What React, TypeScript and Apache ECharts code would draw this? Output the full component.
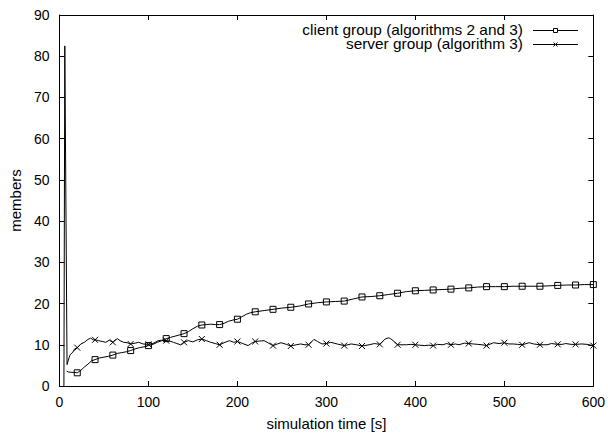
import React, { useEffect, useRef } from "react";
import * as echarts from "echarts";

// client group (algorithms 2 and 3)
const clientTime = [8, 10, 14, 17, 20, 24, 28, 32, 36, 40, 45, 50, 55, 60, 65, 70, 75, 80, 85, 90, 95, 100, 105, 110, 115, 120, 125, 130, 135, 140, 145, 150, 155, 160, 165, 170, 175, 180, 185, 190, 195, 200, 205, 210, 215, 220, 230, 240, 250, 260, 270, 280, 290, 300, 310, 320, 330, 340, 350, 360, 370, 380, 390, 400, 410, 420, 430, 440, 450, 460, 470, 480, 490, 500, 510, 520, 530, 540, 550, 560, 570, 580, 590, 600];
const clientValue = [3.6, 3.4, 3.3, 3.3, 3.2, 3.8, 4.6, 5.3, 6.1, 6.4, 6.8, 7.0, 7.2, 7.5, 7.9, 8.1, 8.3, 8.6, 9.0, 9.3, 9.5, 9.8, 10.1, 10.6, 11.0, 11.5, 11.8, 12.1, 12.4, 12.7, 13.2, 13.9, 14.5, 14.8, 14.9, 15.0, 14.9, 14.9, 15.2, 15.7, 16.0, 16.2, 16.8, 17.4, 17.8, 18.0, 18.3, 18.6, 18.9, 19.1, 19.4, 19.9, 20.2, 20.4, 20.5, 20.6, 21.1, 21.6, 21.7, 21.9, 22.2, 22.5, 22.9, 23.1, 23.2, 23.3, 23.4, 23.5, 23.7, 23.8, 24.0, 24.1, 24.1, 24.1, 24.2, 24.2, 24.2, 24.2, 24.3, 24.4, 24.5, 24.5, 24.6, 24.6];

// server group (algorithm 3)
const serverTime = [5, 6, 8.5, 10, 12, 15, 17, 20, 24, 28, 32, 35, 38, 40, 44, 48, 52, 56, 60, 65, 68, 72, 76, 80, 85, 89, 94, 100, 105, 111, 115, 120, 124, 128, 132, 136, 140, 145, 150, 155, 160, 165, 170, 175, 180, 185, 191, 196, 200, 206, 212, 216, 220, 225, 230, 235, 240, 245, 249, 255, 260, 266, 271, 276, 280, 286, 290, 295, 300, 305, 312, 320, 328, 334, 340, 348, 354, 360, 366, 370, 372, 375, 380, 385, 390, 395, 400, 405, 410, 415, 420, 425, 431, 435, 440, 445, 449, 455, 460, 465, 470, 475, 480, 488, 494, 500, 505, 510, 515, 520, 528, 533, 540, 548, 553, 560, 565, 569, 575, 580, 587, 593, 600];
const serverValue = [0, 82.5, 5.2, 6.3, 7.6, 8.2, 9.0, 9.3, 10.2, 10.6, 11.3, 11.6, 11.2, 11.2, 11.0, 10.8, 10.6, 11.1, 10.6, 11.5, 11.0, 10.6, 10.5, 10.2, 10.4, 10.6, 10.2, 10.1, 10.3, 11.0, 11.1, 11.0, 10.9, 10.6, 10.3, 10.0, 10.6, 11.0, 10.7, 11.2, 11.4, 11.0, 10.6, 10.3, 10.0, 10.5, 11.0, 10.6, 10.8, 10.3, 9.8, 10.4, 10.8, 10.9, 11.0, 10.4, 9.8, 10.2, 10.5, 10.1, 9.7, 10.0, 10.2, 10.0, 10.0, 11.3, 10.8, 10.2, 10.3, 10.6, 10.2, 9.8, 10.2, 10.0, 9.7, 10.0, 10.3, 10.1, 11.4, 11.7, 11.5, 11.0, 10.0, 10.0, 10.0, 10.1, 10.0, 9.9, 9.8, 9.9, 9.8, 10.1, 10.0, 10.3, 10.0, 10.2, 10.0, 10.4, 10.3, 10.2, 10.1, 10.0, 9.8, 10.5, 10.3, 10.5, 10.2, 10.2, 10.1, 10.0, 10.5, 10.2, 10.0, 10.0, 10.3, 10.1, 10.1, 10.3, 10.1, 10.1, 10.2, 10.1, 9.8];

const seriesNames = ["client group (algorithms 2 and 3)", "server group (algorithm 3)"];
const xTicks = { min: 0, max: 600, interval: 100 };
const yTicks = { min: 0, max: 90, interval: 10 };
const markStep = 20;

const FONT = "'Liberation Sans', Arial, Helvetica, sans-serif";
const CROSS = "path://M0,0L10,10M0,10L10,0";
const SQUARE = "path://M0,0L10,0L10,10L0,10Z";

const isMark = (t: number) => t >= markStep && t % markStep === 0;

export default function App() {
  const ref = useRef<HTMLDivElement>(null);
  useEffect(() => {
    document.body.style.margin = "0";
    if (!ref.current) return;
    const chart = echarts.init(ref.current, null, { renderer: "svg" });
    const axisCommon = {
      type: "value" as const,
      axisLine: { show: true, onZero: false, lineStyle: { color: "#000", width: 1 } },
      axisTick: { show: true, inside: true, length: 5, lineStyle: { color: "#000", width: 1 } },
      splitLine: { show: false },
    };
    const labelStyle = { color: "#000", fontFamily: FONT, fontSize: 14 };
    const legX = 523;
    const lineX0 = 533;
    const lineX1 = 578;
    const midX = (lineX0 + lineX1) / 2;
    const row1 = 30.5;
    const row2 = 44.5;
    chart.setOption({
      animation: false,
      backgroundColor: "#fff",
      grid: { left: 59, right: 11, top: 15, bottom: 53, containLabel: false },
      xAxis: [
        {
          ...axisCommon,
          ...xTicks,
          position: "bottom",
          name: "simulation time [s]",
          nameLocation: "middle",
          nameGap: 30,
          nameTextStyle: { color: "#000", fontFamily: FONT, fontSize: 15 },
          axisLabel: { ...labelStyle, margin: 9 },
        },
        {
          ...axisCommon,
          ...xTicks,
          position: "top",
          axisLabel: { show: false },
        },
      ],
      yAxis: [
        {
          ...axisCommon,
          ...yTicks,
          position: "left",
          name: "members",
          nameLocation: "middle",
          nameGap: 35,
          nameRotate: 90,
          nameTextStyle: { color: "#000", fontFamily: FONT, fontSize: 15 },
          axisLabel: { ...labelStyle, margin: 10 },
        },
        {
          ...axisCommon,
          ...yTicks,
          position: "right",
          axisLabel: { show: false },
        },
      ],
      series: [
        {
          name: seriesNames[0],
          type: "line",
          xAxisIndex: 0,
          yAxisIndex: 0,
          data: clientTime.map((t, i) => [t, clientValue[i]]),
          showSymbol: true,
          symbol: (v: number[]) => (isMark(v[0]) ? SQUARE : "none"),
          symbolSize: 6,
          lineStyle: { color: "#000", width: 1 },
          itemStyle: { color: "rgba(0,0,0,0)", borderColor: "#000", borderWidth: 1 },
          silent: true,
        },
        {
          name: seriesNames[1],
          type: "line",
          xAxisIndex: 0,
          yAxisIndex: 0,
          data: serverTime.map((t, i) => [t, serverValue[i]]),
          showSymbol: true,
          symbol: (v: number[]) => (isMark(v[0]) ? CROSS : "none"),
          symbolSize: 6,
          lineStyle: { color: "#000", width: 1 },
          itemStyle: { color: "rgba(0,0,0,0)", borderColor: "#000", borderWidth: 1 },
          silent: true,
        },
      ],
      graphic: [
        {
          type: "text",
          x: legX,
          y: row1,
          scaleX: 1.1,
          style: { text: seriesNames[0], fill: "#000", font: `14px ${FONT}`, align: "right", verticalAlign: "middle" },
        },
        {
          type: "text",
          x: legX,
          y: row2,
          scaleX: 1.1,
          style: { text: seriesNames[1], fill: "#000", font: `14px ${FONT}`, align: "right", verticalAlign: "middle" },
        },
        { type: "line", shape: { x1: lineX0, y1: row1, x2: lineX1, y2: row1 }, style: { stroke: "#000", lineWidth: 1 } },
        { type: "rect", shape: { x: midX - 2, y: row1 - 2, width: 4, height: 4 }, style: { fill: "#fff", stroke: "#000", lineWidth: 1 } },
        { type: "line", shape: { x1: lineX0, y1: row2, x2: lineX1, y2: row2 }, style: { stroke: "#000", lineWidth: 1 } },
        { type: "line", shape: { x1: midX - 2, y1: row2 - 2, x2: midX + 2, y2: row2 + 2 }, style: { stroke: "#000", lineWidth: 1 } },
        { type: "line", shape: { x1: midX - 2, y1: row2 + 2, x2: midX + 2, y2: row2 - 2 }, style: { stroke: "#000", lineWidth: 1 } },
      ],
    });
    return () => chart.dispose();
  }, []);
  return <div ref={ref} style={{ width: 608, height: 439 }} />;
}
